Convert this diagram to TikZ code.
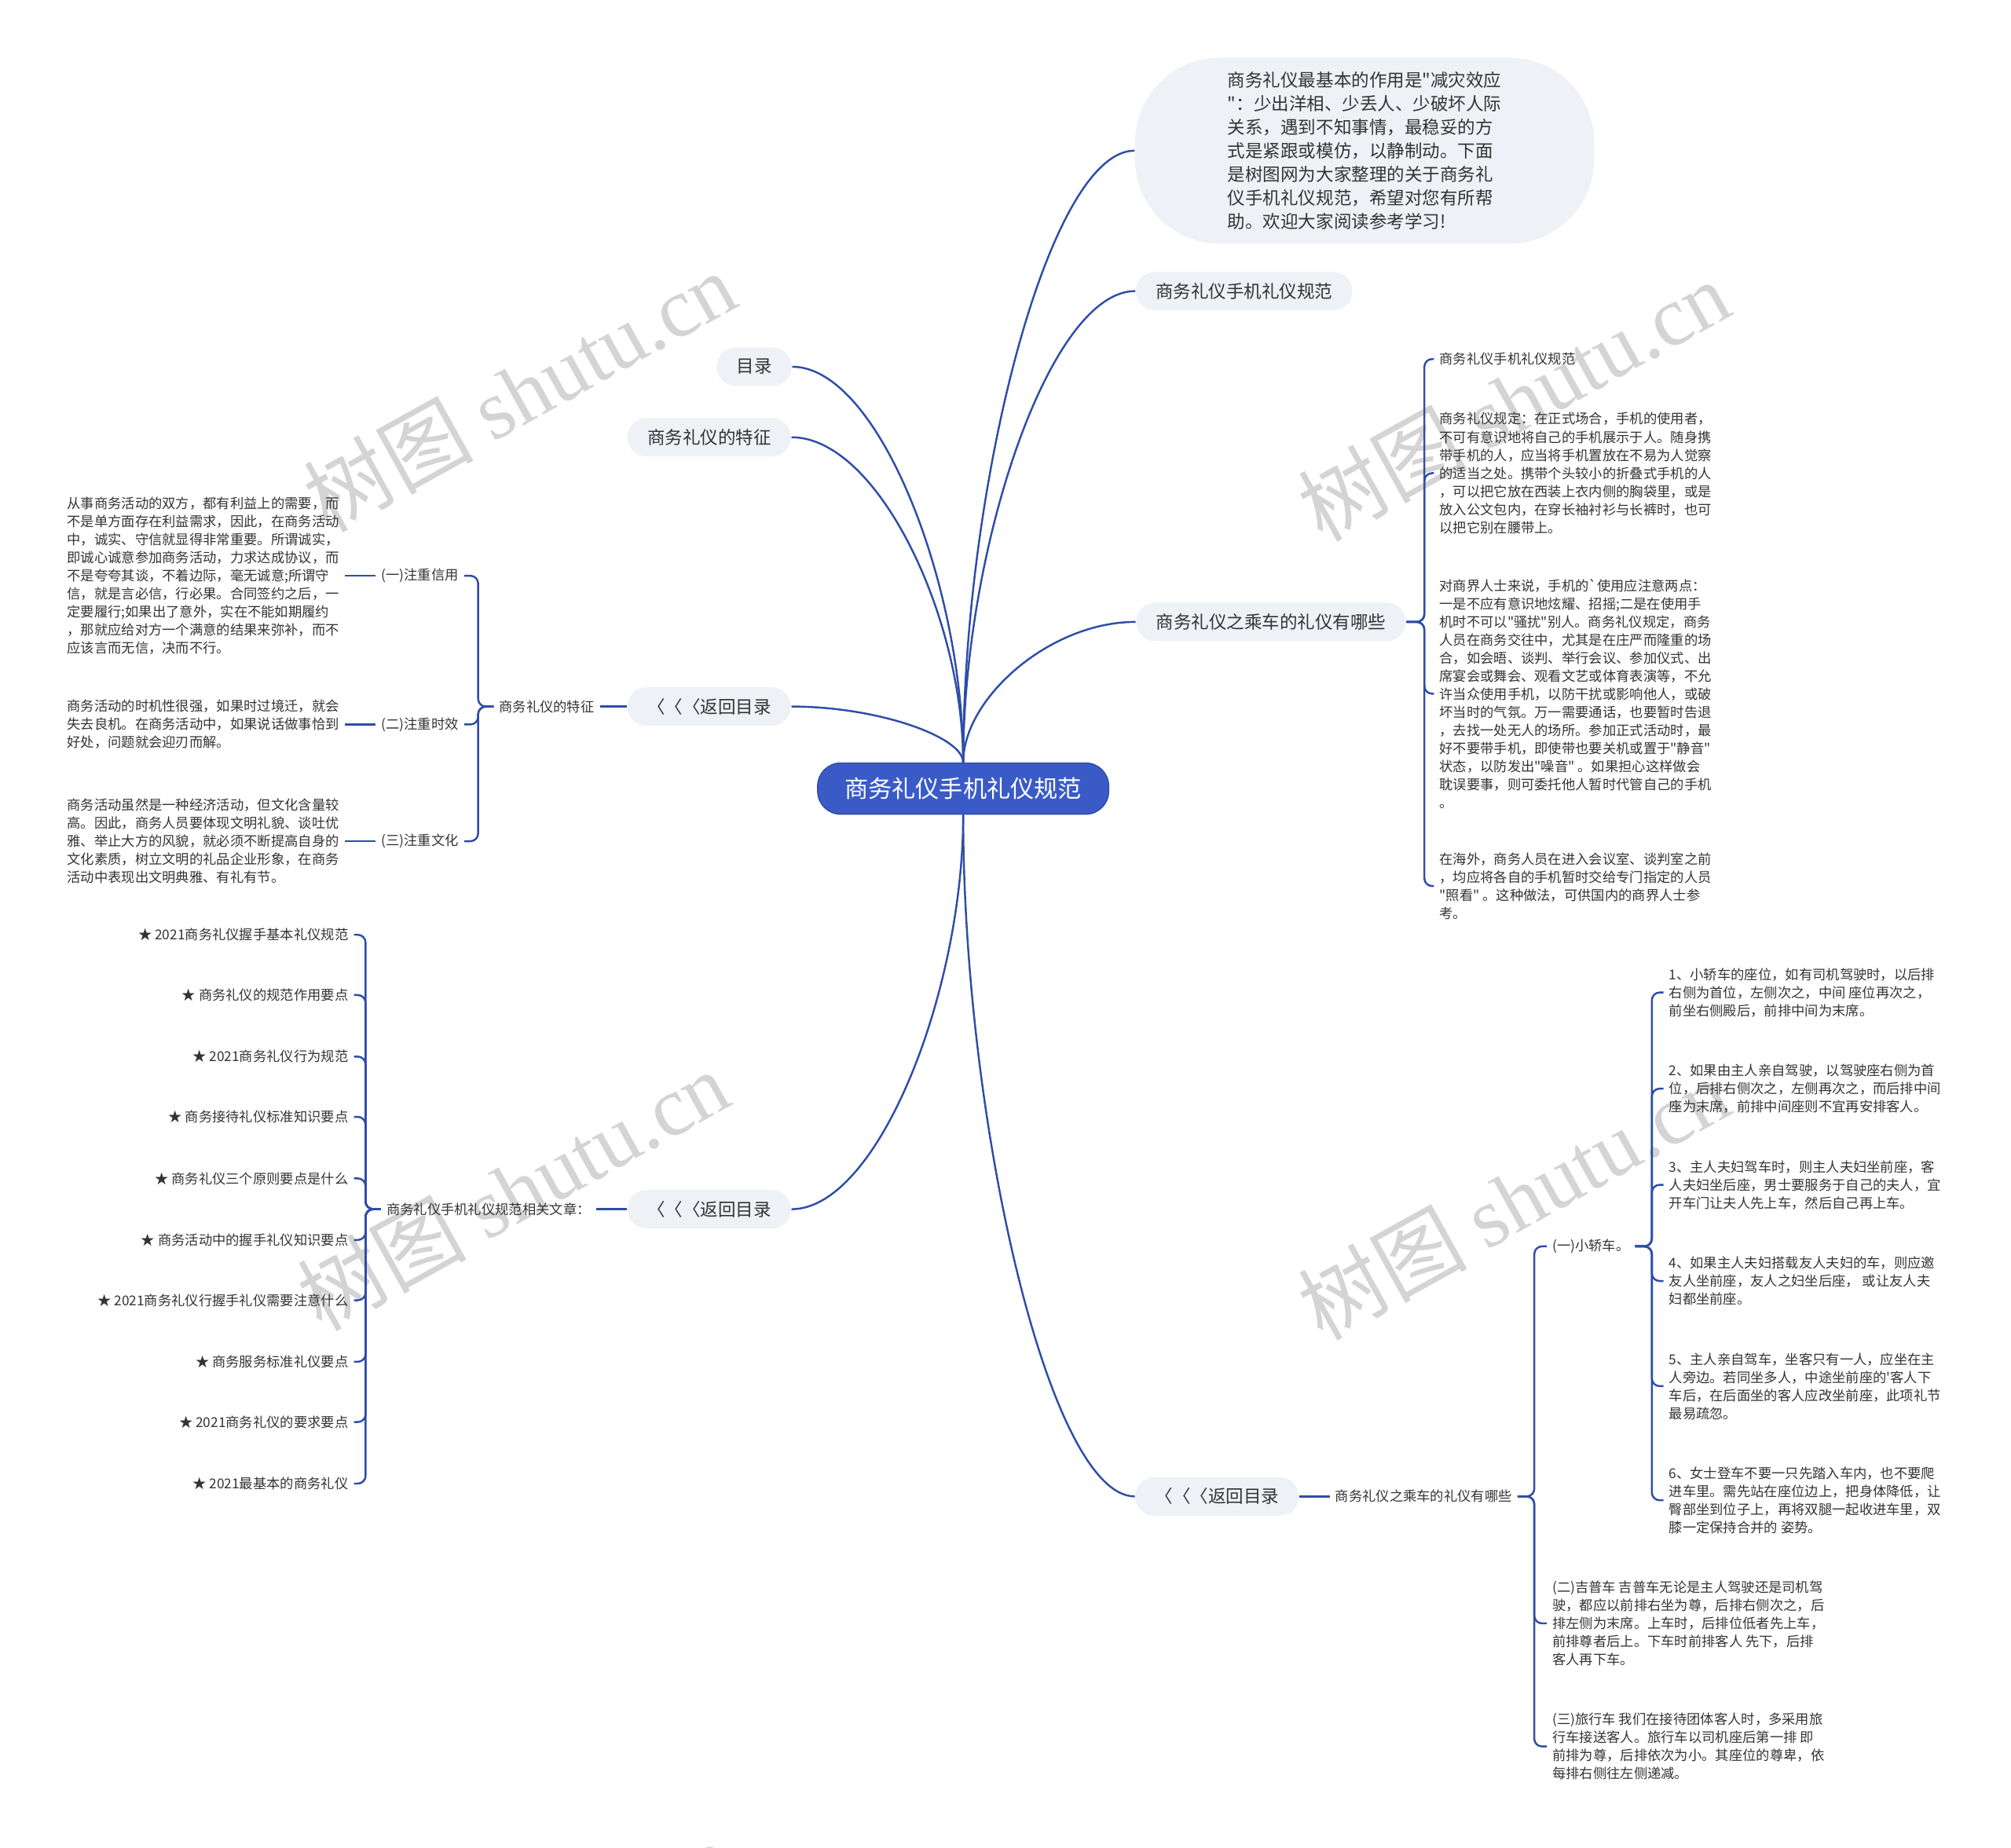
\documentclass[tikz,border=0pt]{standalone}
\usepackage{fontspec}
\newfontfamily\cjkfont{Noto Sans CJK SC}
\newfontfamily\wmfont{Liberation Serif}
\usepackage{xcolor}
\usepackage{tikz}
\usetikzlibrary{positioning}
\definecolor{linecol}{HTML}{2E4DA7}
\definecolor{rootblue}{HTML}{3A5BC7}
\definecolor{topicfill}{HTML}{EEF1F5}
\definecolor{txtgray}{HTML}{333333}

\begin{document}
\begin{tikzpicture}[
  x=0.5pt, y=-0.5pt,
  root/.style={fill=rootblue, draw=rootblue!80!black, line width=0.4pt,
               rounded corners=9pt, text=white, minimum height=20pt,
               inner xsep=10.5pt, font=\cjkfont\fontsize{9.25}{11}\selectfont},
  topic/.style={fill=topicfill, rounded corners=7.5pt, text=txtgray,
                minimum height=15pt, inner xsep=7.75pt, inner ysep=2pt,
                font=\cjkfont\fontsize{6.9}{9.15}\selectfont},
  lbl/.style={text=txtgray, inner sep=2pt,
              font=\cjkfont\fontsize{5.3}{7.05}\selectfont},
  para/.style={lbl, align=left},
  link/.style={draw=linecol, line width=0.75pt},
  brace/.style={link, rounded corners=3pt},
  wm/.style={text=black!17, rotate=29, font=\cjkfont\fontsize{33}{33}\selectfont},
  node distance=12pt,
]
  \useasboundingbox (0,0) rectangle (1568,1441);

  \node[wm] (wm1) at (405,305)  {树图 {\wmfont shutu.cn}};
  \node[wm] (wm2) at (400,928)  {树图 {\wmfont shutu.cn}};
  \node[wm] (wm3) at (1180,312) {树图 {\wmfont shutu.cn}};
  \node[wm] (wm4) at (1180,935) {树图 {\wmfont shutu.cn}};
  \node[wm] (wm5) at (402,1530) {树图 {\wmfont shutu.cn}};
  \node[wm] (wm6) at (1165,1532) {树图 {\wmfont shutu.cn}};

  \node[root] (root) at (751,615) {商务礼仪手机礼仪规范};

  \node[topic] (toc)   at (588,286) {目录};
  \node[topic] (feat)  at (553,341) {商务礼仪的特征};
  \node[topic] (back1) at (553,551) {〈〈〈返回目录};
  \node[topic] (back2) at (553,943) {〈〈〈返回目录};
  \node[topic, align=left, minimum width=179pt, minimum height=72.5pt,
        rounded corners=33pt] (intro) at (1064,117.5)
    {商务礼仪最基本的作用是"减灾效应\\
     "：少出洋相、少丢人、少破坏人际\\
     关系，遇到不知事情，最稳妥的方\\
     式是紧跟或模仿，以静制动。下面\\
     是树图网为大家整理的关于商务礼\\
     仪手机礼仪规范，希望对您有所帮\\
     助。欢迎大家阅读参考学习!};
  \node[topic] (spec)  at (970,227)  {商务礼仪手机礼仪规范};
  \node[topic] (ride)  at (991,485)  {商务礼仪之乘车的礼仪有哪些};
  \node[topic] (back3) at (949,1167) {〈〈〈返回目录};

  \draw[link] (root.north) .. controls +(0,-139) and +(67,0) .. (toc.east);
  \draw[link] (root.north) .. controls +(0,-114) and +(67,0) .. (feat.east);
  \draw[link] (root.north) .. controls +(0,-20) and +(67,0) .. (back1.east);
  \draw[link] (root.north) .. controls +(0,-215) and +(-67,0) .. (intro.west);
  \draw[link] (root.north) .. controls +(0,-166) and +(-67,0) .. (spec.west);
  \draw[link] (root.north) .. controls +(0,-50) and +(-67,0) .. (ride.west);
  \draw[link] (root.south) .. controls +(0,139) and +(67,0) .. (back2.east);
  \draw[link] (root.south) .. controls +(0,239) and +(-67,0) .. (back3.west);

  \node[lbl, left=10.5pt of back1] (featlbl) {商务礼仪的特征};
  \node[lbl, anchor=east] (credit)  at (362,449) {(一)注重信用};
  \node[lbl, anchor=east] (timely)  at (362,565) {(二)注重时效};
  \node[lbl, anchor=east] (culture) at (362,656) {(三)注重文化};
  \node[para, anchor=west] (creditx) at (48,449)
    {从事商务活动的双方，都有利益上的需要，而\\
     不是单方面存在利益需求，因此，在商务活动\\
     中，诚实、守信就显得非常重要。所谓诚实，\\
     即诚心诚意参加商务活动，力求达成协议，而\\
     不是夸夸其谈，不着边际，毫无诚意;所谓守\\
     信，就是言必信，行必果。合同签约之后，一\\
     定要履行;如果出了意外，实在不能如期履约\\
     ，那就应给对方一个满意的结果来弥补，而不\\
     应该言而无信，决而不行。};
  \node[para, anchor=west] (timelyx) at (48,565)
    {商务活动的时机性很强，如果时过境迁，就会\\
     失去良机。在商务活动中，如果说话做事恰到\\
     好处，问题就会迎刃而解。};
  \node[para, anchor=west] (culturex) at (48,656)
    {商务活动虽然是一种经济活动，但文化含量较\\
     高。因此，商务人员要体现文明礼貌、谈吐优\\
     雅、举止大方的风貌，就必须不断提高自身的\\
     文化素质，树立文明的礼品企业形象，在商务\\
     活动中表现出文明典雅、有礼有节。};
  \draw[link] (back1.west) -- (featlbl.east);
  \draw[brace] (featlbl.west) -- ++(-12,0) |- (credit.east);
  \draw[brace] (featlbl.west) -- ++(-12,0) |- (timely.east);
  \draw[brace] (featlbl.west) -- ++(-12,0) |- (culture.east);
  \draw[link] (credit.west) -- (creditx.east);
  \draw[link] (timely.west) -- (timelyx.east);
  \draw[link] (culture.west) -- (culturex.east);

  \node[lbl, left=12pt of back2] (artlbl) {商务礼仪手机礼仪规范相关文章：};
  \node[lbl, anchor=east] (a1)  at (276,729)  {★ 2021商务礼仪握手基本礼仪规范};
  \node[lbl, anchor=east] (a2)  at (276,776)  {★ 商务礼仪的规范作用要点};
  \node[lbl, anchor=east] (a3)  at (276,824)  {★ 2021商务礼仪行为规范};
  \node[lbl, anchor=east] (a4)  at (276,871)  {★ 商务接待礼仪标准知识要点};
  \node[lbl, anchor=east] (a5)  at (276,919)  {★ 商务礼仪三个原则要点是什么};
  \node[lbl, anchor=east] (a6)  at (276,967)  {★ 商务活动中的握手礼仪知识要点};
  \node[lbl, anchor=east] (a7)  at (276,1014) {★ 2021商务礼仪行握手礼仪需要注意什么};
  \node[lbl, anchor=east] (a8)  at (276,1062) {★ 商务服务标准礼仪要点};
  \node[lbl, anchor=east] (a9)  at (276,1109) {★ 2021商务礼仪的要求要点};
  \node[lbl, anchor=east] (a10) at (276,1157) {★ 2021最基本的商务礼仪};
  \draw[link] (back2.west) -- (artlbl.east);
  \draw[brace] (artlbl.west) -- ++(-12,0) |- (a1.east);
  \draw[brace] (artlbl.west) -- ++(-12,0) |- (a2.east);
  \draw[brace] (artlbl.west) -- ++(-12,0) |- (a3.east);
  \draw[brace] (artlbl.west) -- ++(-12,0) |- (a4.east);
  \draw[brace] (artlbl.west) -- ++(-12,0) |- (a5.east);
  \draw[brace] (artlbl.west) -- ++(-12,0) |- (a6.east);
  \draw[brace] (artlbl.west) -- ++(-12,0) |- (a7.east);
  \draw[brace] (artlbl.west) -- ++(-12,0) |- (a8.east);
  \draw[brace] (artlbl.west) -- ++(-12,0) |- (a9.east);
  \draw[brace] (artlbl.west) -- ++(-12,0) |- (a10.east);

  \node[para, anchor=west] (r1) at (1118,280) {商务礼仪手机礼仪规范};
  \node[para, anchor=west] (r2) at (1118,369)
    {商务礼仪规定：在正式场合，手机的使用者，\\
     不可有意识地将自己的手机展示于人。随身携\\
     带手机的人，应当将手机置放在不易为人觉察\\
     的适当之处。携带个头较小的折叠式手机的人\\
     ，可以把它放在西装上衣内侧的胸袋里，或是\\
     放入公文包内，在穿长袖衬衫与长裤时，也可\\
     以把它别在腰带上。};
  \node[para, anchor=west] (r3) at (1118,541)
    {对商界人士来说，手机的`使用应注意两点：\\
     一是不应有意识地炫耀、招摇;二是在使用手\\
     机时不可以"骚扰"别人。商务礼仪规定，商务\\
     人员在商务交往中，尤其是在庄严而隆重的场\\
     合，如会晤、谈判、举行会议、参加仪式、出\\
     席宴会或舞会、观看文艺或体育表演等，不允\\
     许当众使用手机，以防干扰或影响他人，或破\\
     坏当时的气氛。万一需要通话，也要暂时告退\\
     ，去找一处无人的场所。参加正式活动时，最\\
     好不要带手机，即使带也要关机或置于"静音"\\
     状态，以防发出"噪音" 。如果担心这样做会\\
     耽误要事，则可委托他人暂时代管自己的手机\\
     。};
  \node[para, anchor=west] (r4) at (1118,691)
    {在海外，商务人员在进入会议室、谈判室之前\\
     ，均应将各自的手机暂时交给专门指定的人员\\
     "照看" 。这种做法，可供国内的商界人士参\\
     考。};
  \draw[brace] (ride.east) -- ++(14,0) |- (r1.west);
  \draw[brace] (ride.east) -- ++(14,0) |- (r2.west);
  \draw[brace] (ride.east) -- ++(14,0) |- (r3.west);
  \draw[brace] (ride.east) -- ++(14,0) |- (r4.west);

  \node[lbl, right=11.75pt of back3] (ridelbl) {商务礼仪之乘车的礼仪有哪些};
  \node[lbl, anchor=west] (sedan) at (1206,972) {(一)小轿车。};
  \node[para, anchor=west] (jeep) at (1206,1266)
    {(二)吉普车 吉普车无论是主人驾驶还是司机驾\\
     驶，都应以前排右坐为尊，后排右侧次之，后\\
     排左侧为末席。上车时，后排位低者先上车，\\
     前排尊者后上。下车时前排客人 先下，后排\\
     客人再下车。};
  \node[para, anchor=west] (coach) at (1206,1362)
    {(三)旅行车 我们在接待团体客人时，多采用旅\\
     行车接送客人。旅行车以司机座后第一排 即\\
     前排为尊，后排依次为小。其座位的尊卑，依\\
     每排右侧往左侧递减。};
  \draw[link] (back3.east) -- (ridelbl.west);
  \draw[brace] (ridelbl.east) -- ++(13,0) |- (sedan.west);
  \draw[brace] (ridelbl.east) -- ++(13,0) |- (jeep.west);
  \draw[brace] (ridelbl.east) -- ++(13,0) |- (coach.west);

  \node[para, anchor=west] (s1) at (1297,774)
    {1、小轿车的座位，如有司机驾驶时，以后排\\
     右侧为首位，左侧次之，中间 座位再次之，\\
     前坐右侧殿后，前排中间为末席。};
  \node[para, anchor=west] (s2) at (1297,849)
    {2、如果由主人亲自驾驶，以驾驶座右侧为首\\
     位，后排右侧次之，左侧再次之，而后排中间\\
     座为末席，前排中间座则不宜再安排客人。};
  \node[para, anchor=west] (s3) at (1297,924)
    {3、主人夫妇驾车时，则主人夫妇坐前座，客\\
     人夫妇坐后座，男士要服务于自己的夫人，宜\\
     开车门让夫人先上车，然后自己再上车。};
  \node[para, anchor=west] (s4) at (1297,999)
    {4、如果主人夫妇搭载友人夫妇的车，则应邀\\
     友人坐前座，友人之妇坐后座， 或让友人夫\\
     妇都坐前座。};
  \node[para, anchor=west] (s5) at (1297,1081)
    {5、主人亲自驾车，坐客只有一人，应坐在主\\
     人旁边。若同坐多人，中途坐前座的'客人下\\
     车后，在后面坐的客人应改坐前座，此项礼节\\
     最易疏忽。};
  \node[para, anchor=west] (s6) at (1297,1170)
    {6、女士登车不要一只先踏入车内，也不要爬\\
     进车里。需先站在座位边上，把身体降低，让\\
     臀部坐到位子上，再将双腿一起收进车里，双\\
     膝一定保持合并的 姿势。};
  \draw[brace] (sedan.east) -- ++(13,0) |- (s1.west);
  \draw[brace] (sedan.east) -- ++(13,0) |- (s2.west);
  \draw[brace] (sedan.east) -- ++(13,0) |- (s3.west);
  \draw[brace] (sedan.east) -- ++(13,0) |- (s4.west);
  \draw[brace] (sedan.east) -- ++(13,0) |- (s5.west);
  \draw[brace] (sedan.east) -- ++(13,0) |- (s6.west);
\end{tikzpicture}
\end{document}
